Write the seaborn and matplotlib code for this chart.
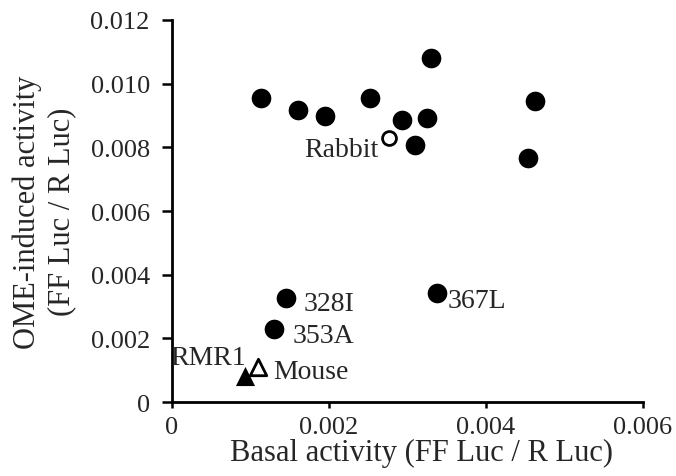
import matplotlib
matplotlib.use("Agg")
import matplotlib.pyplot as plt
import seaborn as sns
import pandas as pd

# Data
variant_x = [1.14e-3, 1.60e-3, 1.95e-3, 2.52e-3, 2.93e-3, 3.25e-3, 3.09e-3, 3.30e-3, 4.62e-3, 4.54e-3]
variant_y = [9.56e-3, 9.18e-3, 8.97e-3, 9.56e-3, 8.87e-3, 8.93e-3, 8.08e-3, 10.82e-3, 9.46e-3, 7.66e-3]
named_labels = ["328I", "353A", "367L"]
named_x = [1.45e-3, 1.30e-3, 3.37e-3]
named_y = [3.26e-3, 2.30e-3, 3.42e-3]
rabbit_x, rabbit_y = [2.76e-3], [8.29e-3]
rmr1_x, rmr1_y = [0.93e-3], [0.83e-3]
mouse_x, mouse_y = [1.09e-3], [1.09e-3]

x_ticks = [0, 0.002, 0.004, 0.006]
x_tick_labels = ["0", "0.002", "0.004", "0.006"]
y_ticks = [0, 0.002, 0.004, 0.006, 0.008, 0.010, 0.012]
y_tick_labels = ["0", "0.002", "0.004", "0.006", "0.008", "0.010", "0.012"]

sns.set_theme(style="ticks")
plt.rcParams['font.family'] = ['Liberation Serif', 'DejaVu Serif']

fig = plt.figure(figsize=(6.76, 4.77), dpi=100)
ax = fig.add_axes([0.2544, 0.155, 0.6967, 0.801])

filled = pd.DataFrame({"x": variant_x + named_x, "y": variant_y + named_y})
sns.scatterplot(data=filled, x="x", y="y", ax=ax, marker="o", s=200,
                color="black", edgecolor="black", linewidth=0)
sns.scatterplot(x=rabbit_x, y=rabbit_y, ax=ax, marker="o", s=100,
                facecolor="white", edgecolor="black", linewidth=2)
sns.scatterplot(x=rmr1_x, y=rmr1_y, ax=ax, marker="^", s=190,
                color="black", edgecolor="black", linewidth=0)
sns.scatterplot(x=mouse_x, y=mouse_y, ax=ax, marker="^", s=140,
                facecolor="white", edgecolor="black", linewidth=2)

fs = 20
ax.annotate("Rabbit", (rabbit_x[0], rabbit_y[0]), xytext=(-7, -8),
            textcoords="offset points", ha="right", va="center", fontsize=fs)
named_offsets = [(13, -4), (13, -5), (8, -5)]
for lab, xx, yy, off in zip(named_labels, named_x, named_y, named_offsets):
    ax.annotate(lab, (xx, yy), xytext=off, textcoords="offset points",
                ha="left", va="center", fontsize=fs)
ax.annotate("RMR1", (rmr1_x[0], rmr1_y[0]), xytext=(1, 13),
            textcoords="offset points", ha="right", va="center", fontsize=fs)
ax.annotate("Mouse", (mouse_x[0], mouse_y[0]), xytext=(11, -3),
            textcoords="offset points", ha="left", va="center", fontsize=fs)

ax.set_xlim(0, 0.006)
ax.set_ylim(0, 0.012)
ax.set_xticks(x_ticks)
ax.set_xticklabels(x_tick_labels, fontsize=19)
ax.set_yticks(y_ticks)
ax.set_yticklabels(y_tick_labels, fontsize=19)
ax.tick_params(axis="y", direction="out", length=7, width=1.8, color="black", pad=9)
ax.tick_params(axis="x", direction="out", length=4, width=1.8, color="black", pad=6)
for side in ["top", "right"]:
    ax.spines[side].set_visible(False)
for side in ["left", "bottom"]:
    ax.spines[side].set_linewidth(2)
    ax.spines[side].set_color("black")

ax.set_xlabel("Basal activity (FF Luc / R Luc)", fontsize=22, labelpad=0)
ax.xaxis.label.set_x(0.53)
ax.set_ylabel("OME-induced activity\n(FF Luc / R Luc)", fontsize=22, labelpad=10,
              linespacing=1.25)

fig.savefig("out.png", dpi=100)
